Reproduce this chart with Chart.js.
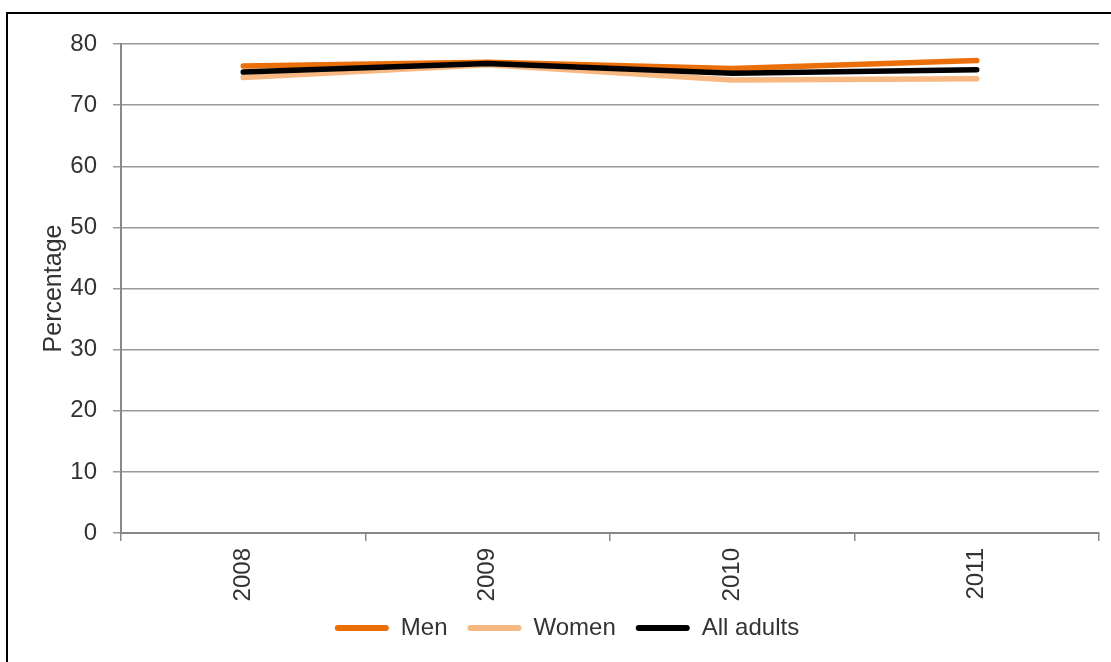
<!DOCTYPE html>
<html>
<head>
<meta charset="utf-8">
<script src="https://cdn.jsdelivr.net/npm/chart.js@4.4.0/dist/chart.umd.min.js"></script>
<style>
  html, body { margin: 0; padding: 0; background: #fff; overflow: hidden; }
  #wrap { position: relative; width: 1111px; height: 662px; }
  #frame { position: absolute; left: 6px; top: 12px; width: 1110px; height: 660px; border: 2px solid #000; pointer-events: none; }
</style>
</head>
<body>
<div id="wrap">
  <canvas id="chart" width="1111" height="662"></canvas>
  <div id="frame"></div>
</div>
<script>
// Data
const years = ["2008", "2009", "2010", "2011"];
const men = [76.4, 77.0, 76.0, 77.3];
const women = [74.5, 76.6, 74.1, 74.3];
const allAdults = [75.4, 76.8, 75.2, 75.8];
const yTicks = [0, 10, 20, 30, 40, 50, 60, 70, 80];

const font = { family: "'Liberation Sans', Arial, sans-serif", size: 24 };
const textColor = "#333333";

const ds = (label, data, color, order) => ({
  label, data, order,
  borderColor: color, backgroundColor: color,
  borderWidth: 5.5, pointRadius: 0, tension: 0,
  borderCapStyle: "round", borderJoinStyle: "round"
});

// pull the legend up a little, closer to the rotated year labels
const legendNudge = {
  id: "legendNudge",
  afterLayout(chart) {
    chart.legend.top -= 9;
    chart.legend.bottom -= 9;
  }
};

new Chart(document.getElementById("chart").getContext("2d"), {
  type: "line",
  data: {
    labels: years,
    datasets: [
      ds("Men", men, "#EB6F08", 3),
      ds("Women", women, "#F8B882", 2),
      ds("All adults", allAdults, "#000000", 1)
    ]
  },
  options: {
    responsive: false,
    animation: false,
    layout: { padding: { left: 35, right: 12, top: 44, bottom: 3 } },
    plugins: {
      tooltip: { enabled: false },
      legend: {
        position: "bottom",
        labels: {
          font, color: textColor, padding: 20,
          boxWidth: 54, boxHeight: 6, useBorderRadius: true, borderRadius: 3,
          generateLabels: chart => chart.data.datasets.map((d, i) => ({
            text: d.label, fillStyle: d.borderColor, strokeStyle: d.borderColor,
            lineWidth: 0, borderRadius: 3, datasetIndex: i, fontColor: textColor
          }))
        }
      }
    },
    scales: {
      x: {
        offset: true,
        grid: { offset: true, drawOnChartArea: false, tickLength: 8, color: "#888", lineWidth: 1.5 },
        border: { color: "#888", width: 2 },
        ticks: { font, color: textColor, minRotation: 90, maxRotation: 90, padding: 7 },
        afterFit: s => { s.height = 72; }
      },
      y: {
        min: 0, max: 80,
        afterBuildTicks: s => { s.ticks = yTicks.map(v => ({ value: v })); },
        grid: { tickLength: 8, color: "#9a9a9a", lineWidth: 1.5 },
        border: { color: "#888", width: 2 },
        ticks: { font, color: textColor, padding: 16 },
        title: { display: true, text: "Percentage", font: { family: font.family, size: 25 }, color: textColor, padding: 4 },
        afterFit: s => { s.width = 86; }
      }
    }
  },
  plugins: [legendNudge]
});
</script>
</body>
</html>
